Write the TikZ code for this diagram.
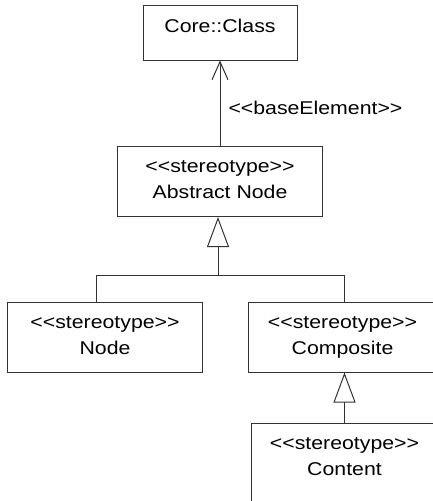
\documentclass[tikz,border=0pt]{standalone}
\usepackage{fontspec}
\setmainfont{Liberation Sans}[FakeStretch=1.15, Ligatures=TeXOff]
\usetikzlibrary{calc,arrows.meta}

\begin{document}
\begin{tikzpicture}[x=1pt, y=1pt, node distance=150pt,
  font=\fontsize{18.5}{26}\selectfont,
  block/.style={draw=black!80, line width=1pt, inner sep=0pt, minimum height=55pt, text height=14pt, text depth=14pt},
  stereo/.style={draw=black!80, line width=1pt, inner sep=0pt, align=center, minimum height=70pt, text height=40pt, text depth=6pt},
  line/.style={draw=black!80, line width=1pt},
  gen/.style={-{Triangle[open, length=30pt, width=22pt]}},
  dep/.style={-{Straight Barb[length=18pt, width=16pt]}}]

  \useasboundingbox (0,0) rectangle (433,-501);
  \clip (0,0) rectangle (433,-501);

  % Boxes
  \node[block, minimum width=154pt] (Core) at (220,-32.5) {Core::Class};
  \node[stereo, minimum width=205pt, below of=Core, node distance=149pt] (Abstract) {<<stereotype>>\\Abstract Node};
  \node[stereo, minimum width=195pt, below of=Abstract, node distance=155.5pt, xshift=-115pt] (Node) {<<stereotype>>\\Node};
  \node[stereo, minimum width=188pt, right of=Node, node distance=237.5pt] (Composite) {<<stereotype>>\\Composite};
  \node[stereo, minimum width=186pt, minimum height=118pt, text depth=54pt, below of=Composite, node distance=145pt, xshift=2pt] (Content) {<<stereotype>>\\Content};

  % Dependency
  \draw[line, dep] (Abstract) -- (Core) node[pos=0.45, right, inner sep=0pt, xshift=8pt] {<<baseElement>>};

  % Generalizations
  \coordinate (Bar) at (218,-275);
  \coordinate (BarL) at (96,-275);
  \coordinate (BarR) at (344,-275);
  \draw[line] (BarL |- Node.north) -- (BarL) -- (BarR) -- (BarR |- Composite.north);
  \draw[line, gen] (Bar) -- (Bar |- Abstract.south);
  \draw[line, gen] (Content.north) -- (Content.north |- Composite.south);

\end{tikzpicture}
\end{document}
